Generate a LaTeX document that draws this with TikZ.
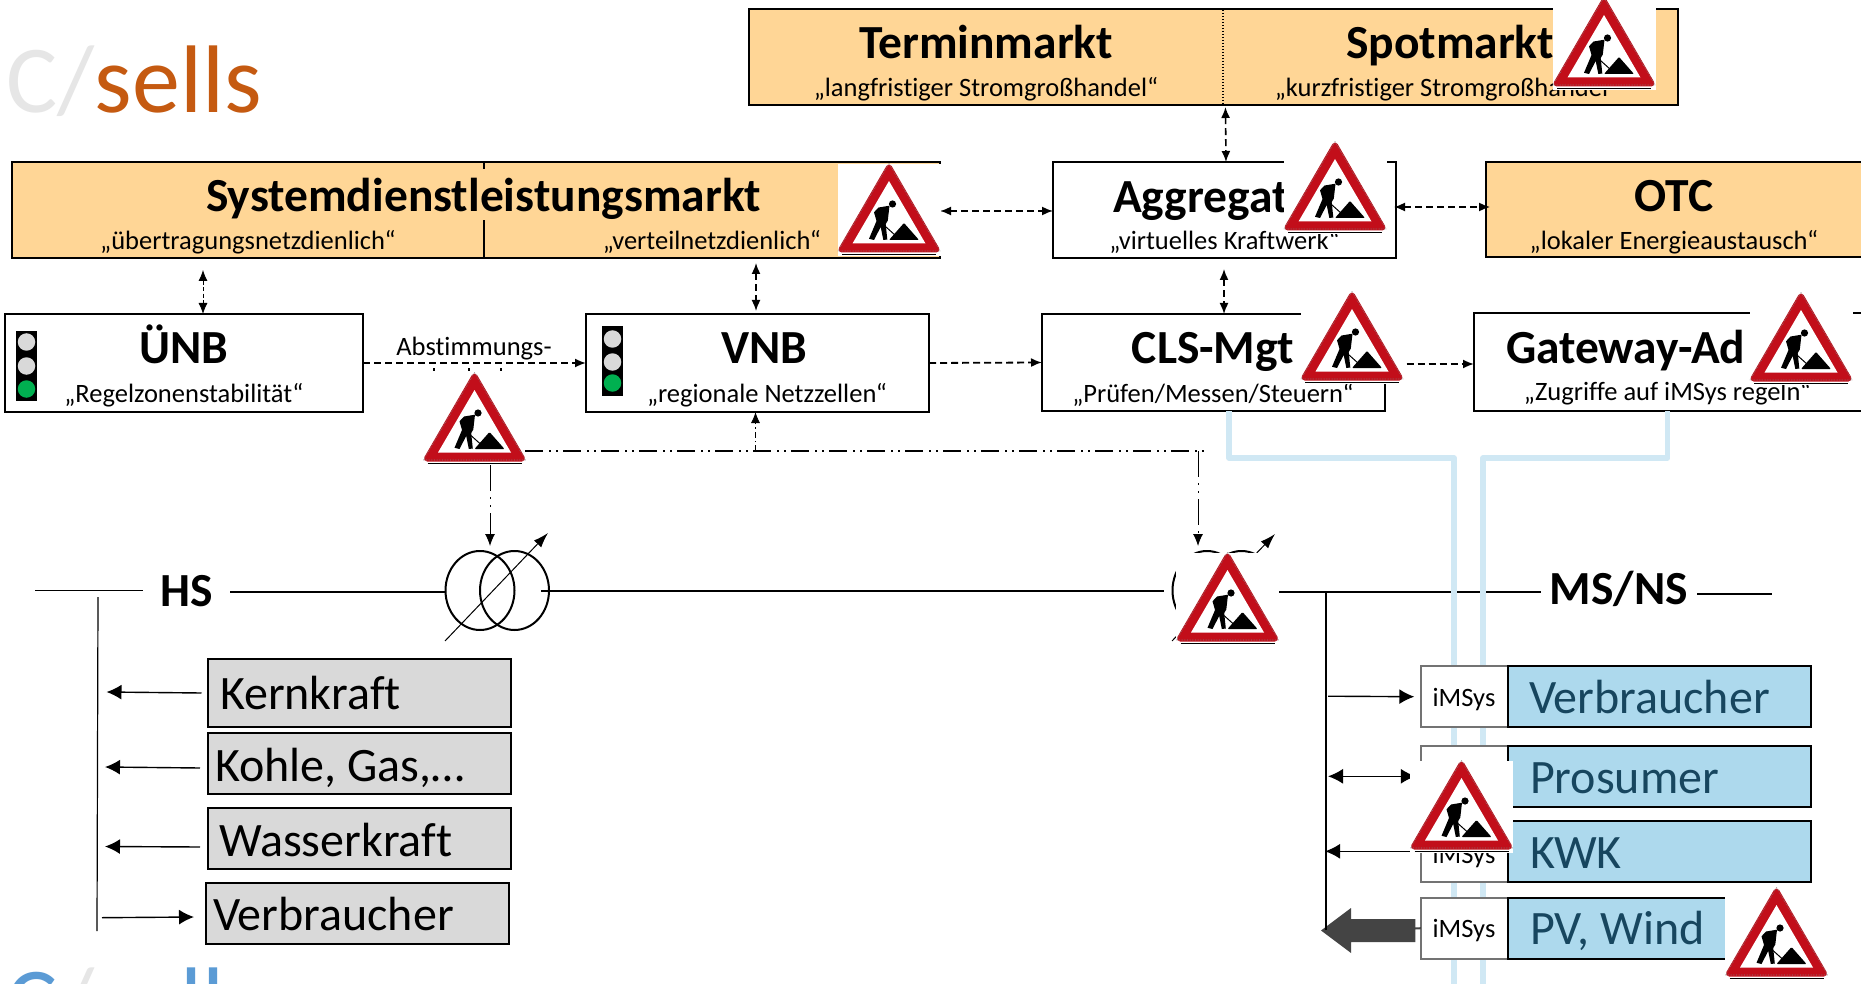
\documentclass[tikz,border=0pt]{standalone}
\usepackage{fontspec}
\setmainfont{Carlito}[Ligatures=CommonOff]
\usetikzlibrary{arrows.meta,shapes.geometric,calc}
\definecolor{mktfill}{HTML}{FFD696}
\definecolor{signred}{HTML}{C20E1A}
\definecolor{greyfill}{HTML}{D9D9D9}
\definecolor{lampgreen}{HTML}{00B050}
\definecolor{bluefill}{HTML}{ADD9ED}
\definecolor{bluetext}{HTML}{17465F}
\definecolor{bluewire}{HTML}{D0E8F4}
\definecolor{logoorange}{HTML}{C55A11}
\definecolor{logogrey}{HTML}{E6E6E6}
\definecolor{logoblue}{HTML}{5B9BD5}
\definecolor{arrowgrey}{HTML}{444444}
\tikzset{
  box/.style={draw=black,line width=2pt,inner sep=0pt,outer sep=0pt,rectangle},
  mkt/.style={box,fill=mktfill},
  plain/.style={box,fill=white},
  grey/.style={box,fill=greyfill},
  blue/.style={box,fill=bluefill},
  ims/.style={draw=black!55,line width=2pt,fill=white,inner sep=0pt,outer sep=0pt,rectangle},
  lab/.style={inner sep=0pt,outer sep=0pt,anchor=base,yshift=-1.2pt},
  labw/.style={inner sep=0pt,outer sep=0pt,anchor=base west,yshift=-1.5pt},
  title/.style={lab,font=\fontsize{47.5}{50}\selectfont\bfseries},
  titlew/.style={labw,font=\fontsize{47.5}{50}\selectfont\bfseries},
  subt/.style={lab,font=\fontsize{26.5}{28}\selectfont},
  big/.style={labw,font=\fontsize{48}{50}\selectfont},
  bigblue/.style={big,text=bluetext},
  imstext/.style={lab,font=\fontsize{26.5}{28}\selectfont},
  dbl/.style={{Latex[length=11pt,width=9pt]}-{Latex[length=11pt,width=9pt]},line width=1.6pt,dash pattern=on 7pt off 4pt},
  dblthin/.style={{Latex[length=11pt,width=9pt]}-{Latex[length=11pt,width=9pt]},line width=.8pt,dash pattern=on 4pt off 2.5pt},
  one/.style={-{Latex[length=11pt,width=9pt]},line width=1.8pt,dash pattern=on 7pt off 4pt},
  ddot/.style={line width=1.8pt,dash pattern=on 18pt off 6pt on 2pt off 5pt on 2pt off 5pt},
  ddarrow/.style={-{Latex[length=12pt,width=10pt]},line width=1pt,dash pattern=on 26pt off 6pt on 2pt off 6pt on 2pt off 6pt},
  solidarrow/.style={-{Latex[length=15pt,width=15pt]},line width=1.4pt},
  bus/.style={line width=1.5pt},
  wire/.style={line width=2pt},
  bluewirestyle/.style={draw=bluewire,line width=5.5pt,line join=round},
  tr/.style={draw=black,ellipse,line width=2pt,minimum width=69pt,minimum height=79pt,inner sep=0pt,outer sep=0pt},
  lamp/.style={circle,inner sep=0pt,minimum size=17.5pt,draw=none},
  signbg/.style={fill=white,draw=none,inner sep=0pt,outer sep=0pt,rectangle,anchor=north,minimum width=103pt,minimum height=92pt}
}
\newcommand{\worksign}[3]{%
  \node[signbg] (#1) at (#2,#3) {};
  \begin{scope}[shift={(#2,#3)}]
    \draw[black,line width=1pt] (-47,90.6) -- (47,90.6);
    \fill[signred,draw=signred,line width=6pt,line join=round] (0,3.5) -- (47.5,85.5) -- (-47.5,85.5) -- cycle;
    \draw[black!50,line width=.6pt,densely dotted,line join=round] (0,-.5) -- (51,87) -- (-51,87) -- cycle;
    \fill[white] (0,17) -- (36.5,79.5) -- (-36.5,79.5) -- cycle;
    \fill[black] (3.5,40) circle (3.6);
    \fill[black] (-15,48.3) -- (-10.5,43.5) -- (0.5,41.7) -- (-1.2,56.5) -- (-3.3,60) -- (-1.7,75.5) -- (-5.7,76) -- (-8.3,63) -- (-15,76) -- (-20,74.8) -- (-12.5,57) -- cycle;
    \draw[black,line width=1pt] (-10,56.7) -- (6.7,71.7);
    \fill[black,rounded corners=1pt] (0,76) -- (15,59) -- (30,76) -- cycle;
  \end{scope}}
\begin{document}
\begin{tikzpicture}[x=1pt,y=-1pt]
\useasboundingbox (0,0) rectangle (1861,984);
\clip (0,0) rectangle (1861,984);
\fill[white] (0,0) rectangle (1861,984);

% logos
\node[labw,font=\fontsize{96}{100}\selectfont] (logoa) at (6.5,111) {\textcolor{logogrey}{C/}\textcolor{logoorange}{sells}};
\node[labw,font=\fontsize{96}{100}\selectfont] (logob) at (6.5,1033) {\textcolor{logoblue}{C}\textcolor{logogrey}{/}\textcolor{logoblue}{sells}};

% bus lines
\coordinate (hsl) at (35,590.7);
\coordinate (msr) at (1772,594);
\coordinate (hsb) at (97,931);
\coordinate (msb) at (1326,930);
\node[title] (hs) at (187,605) {HS};
\node[title] (ms) at (1619,603) {MS/NS};
\node[tr] (t1a) at (480,590.5) {};
\node[tr] (t1b) at (514.5,590.5) {};
\node[tr] (t2a) at (1207,590.5) {};
\node[tr] (t2b) at (1241.5,590.5) {};
\coordinate (t1s) at (445,641);
\coordinate (t1e) at (548,533);
\coordinate (t2s) at (1172,641);
\coordinate (t2e) at (1275,534);
\draw[bus] (hsl) -- ([xshift=-18pt]hs.west |- hsl);
\coordinate (hsm) at (300,592);
\draw[wire] ([xshift=17pt]hs.east |- hsm) -- (t1a.west |- hsm);
\draw[wire] ([xshift=-8pt]t1b.east) -- ([xshift=-9pt]t2a.west);
\coordinate (msm) at (1500,592);
\draw[wire] ([xshift=3pt]t2b.east |- msm) -- ([xshift=-9pt]ms.west |- msm);
\draw[wire] ([xshift=9pt]ms.east |- msr) -- (msr);
\draw[-{Latex[length=15pt,width=10pt]},line width=1pt] (t1s) -- (t1e);
\draw[-{Latex[length=15pt,width=10pt]},line width=1pt] (t2s) -- (t2e);
\draw[line width=1.2pt] (98,597) -- (hsb);
\draw[line width=1.3pt] (1326,592) -- (msb);

% blue wires
\coordinate (bw1) at (1454,990);
\coordinate (bw2) at (1483,990);

% market boxes
\node[mkt,minimum width=473.5pt,minimum height=96pt] (term) at (986.2,57) {};
\node[mkt,minimum width=455pt,minimum height=96pt] (spot) at (1450.5,57) {};
\node[mkt,minimum width=473pt,minimum height=96pt] (sysl) at (248,210) {};
\node[mkt,minimum width=455.6pt,minimum height=96pt] (sysr) at (712.2,210) {};
\fill[mktfill] (470,163) rectangle (500,220);
\draw[line width=2pt] (484.4,162) -- (484.4,169);
\draw[line width=2pt] (484.4,221) -- (484.4,258);
\draw[line width=2pt] (470,162) -- (500,162);
\node[plain,minimum width=343pt,minimum height=96pt] (agg) at (1224.5,210) {};
\node[mkt,minimum width=380pt,minimum height=95pt] (otc) at (1676,209.5) {};
\node[plain,minimum width=358pt,minimum height=98pt] (unb) at (184,363) {};
\node[plain,minimum width=343pt,minimum height=98pt] (vnb) at (757.5,363) {};
\node[plain,minimum width=343pt,minimum height=97pt] (cls) at (1213.5,362.5) {};
\node[plain,minimum width=392pt,minimum height=98pt] (gw) at (1670,362) {};
\draw[bluewirestyle] ([xshift=15.5pt]cls.south) -- ++(0,47) -| (bw1);
\draw[bluewirestyle] ([xshift=-2.4pt]gw.south) -- ++(0,47) -| (bw2);

% market divider
\draw[mktfill,line width=2.6pt] ([yshift=-1.5pt]term.north east) -- ([yshift=1.5pt]term.south east);
\draw[black,line width=1.2pt,dash pattern=on 1.5pt off 1.5pt] ([yshift=-1pt]term.north east) -- ([yshift=1pt]term.south east);

% titles
\node[title] (tterm) at (986,57) {Terminmarkt};
\node[title] (tspot) at (1450,57) {Spotmarkt};
\node[subt] (sterm) at (986,95) {„langfristiger Stromgroßhandel“};
\node[subt] (sspot) at (1447,95) {„kurzfristiger Stromgroßhandel“};
\node[title] (tsys) at (483.5,210.7) {Systemdienstleistungsmarkt};
\node[subt] (ssysl) at (248,248) {„übertragungsnetzdienlich“};
\node[subt] (ssysr) at (712,248) {„verteilnetzdienlich“};
\node[titlew] (tagg) at (1113,210.7) {Aggregat};
\node[subt] (sagg) at (1224.5,248) {„virtuelles Kraftwerk“};
\node[title] (totc) at (1674,210) {OTC};
\node[subt] (sotc) at (1674,248) {„lokaler Energieaustausch“};
\node[title] (tunb) at (184,362.7) {ÜNB};
\node[subt] (sunb) at (184,401) {„Regelzonenstabilität“};
\node[title] (tvnb) at (764,362.7) {VNB};
\node[subt] (svnb) at (767,401) {„regionale Netzzellen“};
\node[title] (tcls) at (1213,362.7) {CLS-Mgt};
\node[subt] (scls) at (1213,401) {„Prüfen/Messen/Steuern“};
\node[titlew] (tgw) at (1506,361.7) {Gateway-Ad};
\node[subt] (sgw) at (1667.5,399.5) {„Zugriffe auf iMSys regeln“};
\node[lab,font=\fontsize{26.5}{28}\selectfont] (tabs) at (474,354) {Abstimmungs-};

% traffic lights
\node[fill=black,inner sep=0pt,minimum width=21pt,minimum height=70pt,anchor=north] (la) at (26.5,331) {};
\node[lamp,fill=greyfill] (la1) at (26.5,342) {};
\node[lamp,fill=greyfill] (la2) at (26.5,366) {};
\node[lamp,fill=lampgreen] (la3) at (26.5,389) {};
\node[fill=black,inner sep=0pt,minimum width=21pt,minimum height=70pt,anchor=north] (lb) at (612.5,326) {};
\node[lamp,fill=greyfill] (lb1) at (612.5,339) {};
\node[lamp,fill=greyfill] (lb2) at (612.5,362) {};
\node[lamp,fill=lampgreen] (lb3) at (612.5,383) {};

% dashed connectors
\draw[dblthin] ([xshift=-45pt,yshift=-12pt]sysl.south) -- ([xshift=19pt]unb.north);
\draw[dbl] ([xshift=43.8pt,yshift=-5pt]sysr.south) -- ([xshift=-1.5pt,yshift=3pt]vnb.north);
\draw[one] (unb.east) -- (vnb.west);
\draw[one] (vnb.east) -- (cls.west);
\draw[dbl] ([xshift=-.5pt,yshift=-11pt]agg.south) -- ([xshift=10.5pt]cls.north);
\draw[dbl] ([xshift=2.5pt,yshift=-2pt]term.south east) -- ([xshift=1.5pt]agg.north);
\draw[dbl] ([yshift=-1pt]sysr.east) -- ([yshift=-1pt]agg.west);
\draw[dbl] ([yshift=3pt,xshift=-2pt]agg.east) -- ([yshift=2.5pt,xshift=4pt]otc.west);

% signs that overlap boxes
\worksign{s1}{1604}{-2}
\worksign{s2}{889}{164}
\worksign{s3}{1335}{142}
\worksign{s4}{1352}{292}
\worksign{s5}{1801}{293}
\draw[one] ([yshift=-26pt,xshift=3pt]s4.east) -- ([yshift=-2pt]gw.west);
\worksign{s6}{474.5}{373}

% tiny remnants under Abstimmungs-
\fill[black] (432.5,368) rectangle (434.5,370.5);
\fill[black] (468,368) rectangle (470,370.5);
\fill[black] (499.5,368) rectangle (501.5,370.5);

% dash dot signal line
\coordinate (ddend) at (1206,451);
\coordinate (ddtop) at (1198,451);
\draw[ddot] ([xshift=-1pt,yshift=-32pt]s6.east) -- (ddend);
\draw[-{Latex[length=11pt,width=9pt]},line width=.8pt,dash pattern=on 6pt off 3pt on 1.5pt off 3pt] ([xshift=-2pt]vnb.south |- ddend) -- ([xshift=-2pt]vnb.south);
\draw[ddarrow] ([xshift=15.5pt]s6.south) -- ([xshift=-24.5pt,yshift=5pt]t1b.north);
\draw[ddarrow] (ddtop) -- ([xshift=-9pt,yshift=5pt]t2a.north);

\worksign{s7}{1227.5}{553}

% grey generators
\node[grey,minimum width=303pt,minimum height=68pt] (kern) at (359.5,693) {};
\node[grey,minimum width=303pt,minimum height=61pt] (kohle) at (359,763.5) {};
\node[grey,minimum width=303pt,minimum height=61pt] (wasser) at (359,838.5) {};
\node[grey,minimum width=303pt,minimum height=61pt] (verb) at (357.5,913.5) {};
\node[big] (tkern) at (220,708) {Kernkraft};
\node[big] (tkohle) at (215,780) {Kohle, Gas,…};
\node[big] (twasser) at (219,855) {Wasserkraft};
\node[big] (tverb) at (213,929) {Verbraucher};
\draw[solidarrow] ([xshift=-6.5pt]kern.west) -- ++(-95,-1);
\draw[solidarrow] ([xshift=-7.5pt,yshift=-4.5pt]kohle.west) -- ++(-95,-1);
\draw[solidarrow] ([xshift=-7.5pt,yshift=-8.5pt]wasser.west) -- ++(-95,-.5);
\draw[solidarrow] ([xshift=5pt,yshift=-4.2pt]hsb |- verb.west) -- ([xshift=-12pt,yshift=-3.5pt]verb.west);

% customer rows
\node[ims,minimum width=87pt,minimum height=61pt] (i1) at (1464.3,696.2) {};
\node[ims,minimum width=87pt,minimum height=61pt] (i2) at (1464.3,776.3) {};
\node[ims,minimum width=87pt,minimum height=61pt] (i3) at (1464.3,851.3) {};
\node[ims,minimum width=87pt,minimum height=61pt] (i4) at (1464.3,928.2) {};
\node[blue,minimum width=303.5pt,minimum height=61pt] (b1) at (1659.3,696.2) {};
\node[blue,minimum width=303.5pt,minimum height=61pt] (b2) at (1659.3,776.3) {};
\node[blue,minimum width=303.5pt,minimum height=61pt] (b3) at (1659.3,851.3) {};
\node[blue,minimum width=303.5pt,minimum height=61pt] (b4) at (1659.3,928.2) {};
\node[imstext] (ti1) at (1464,705) {iMSys};
\node[imstext] (ti3) at (1464,862.7) {iMSys};
\node[imstext] (ti4) at (1464,936.7) {iMSys};
\node[bigblue] (tb1) at (1529,711.7) {Verbraucher};
\node[bigblue] (tb2) at (1530,792) {Prosumer};
\node[bigblue] (tb3) at (1530,867) {KWK};
\node[bigblue] (tb4) at (1530,943) {PV, Wind};

\draw[solidarrow] ([xshift=2pt]msb |- i1.west) -- ([xshift=-6.5pt,yshift=-.5pt]i1.west);
\draw[{Latex[length=15pt,width=15pt]}-{Latex[length=15pt,width=15pt]},line width=1.4pt] ([xshift=2pt]msb |- i2.west) -- ([xshift=-5pt]i2.west);
\draw[solidarrow] (i3.west) -- ([xshift=-1pt]msb |- i3.west);
\fill[arrowgrey] (1415.4,919) -- (1351,919) -- (1351,908) -- (1321,930.5) -- (1351,953) -- (1351,942) -- (1415.4,942) -- cycle;
\draw[arrowgrey,line width=2pt] (1415,928.5) -- (i4.west);
\draw[line width=1.3pt] (1326,905) -- (msb);

\worksign{s8}{1461.5}{761}
\worksign{s9}{1776.5}{888}
\end{tikzpicture}
\end{document}
